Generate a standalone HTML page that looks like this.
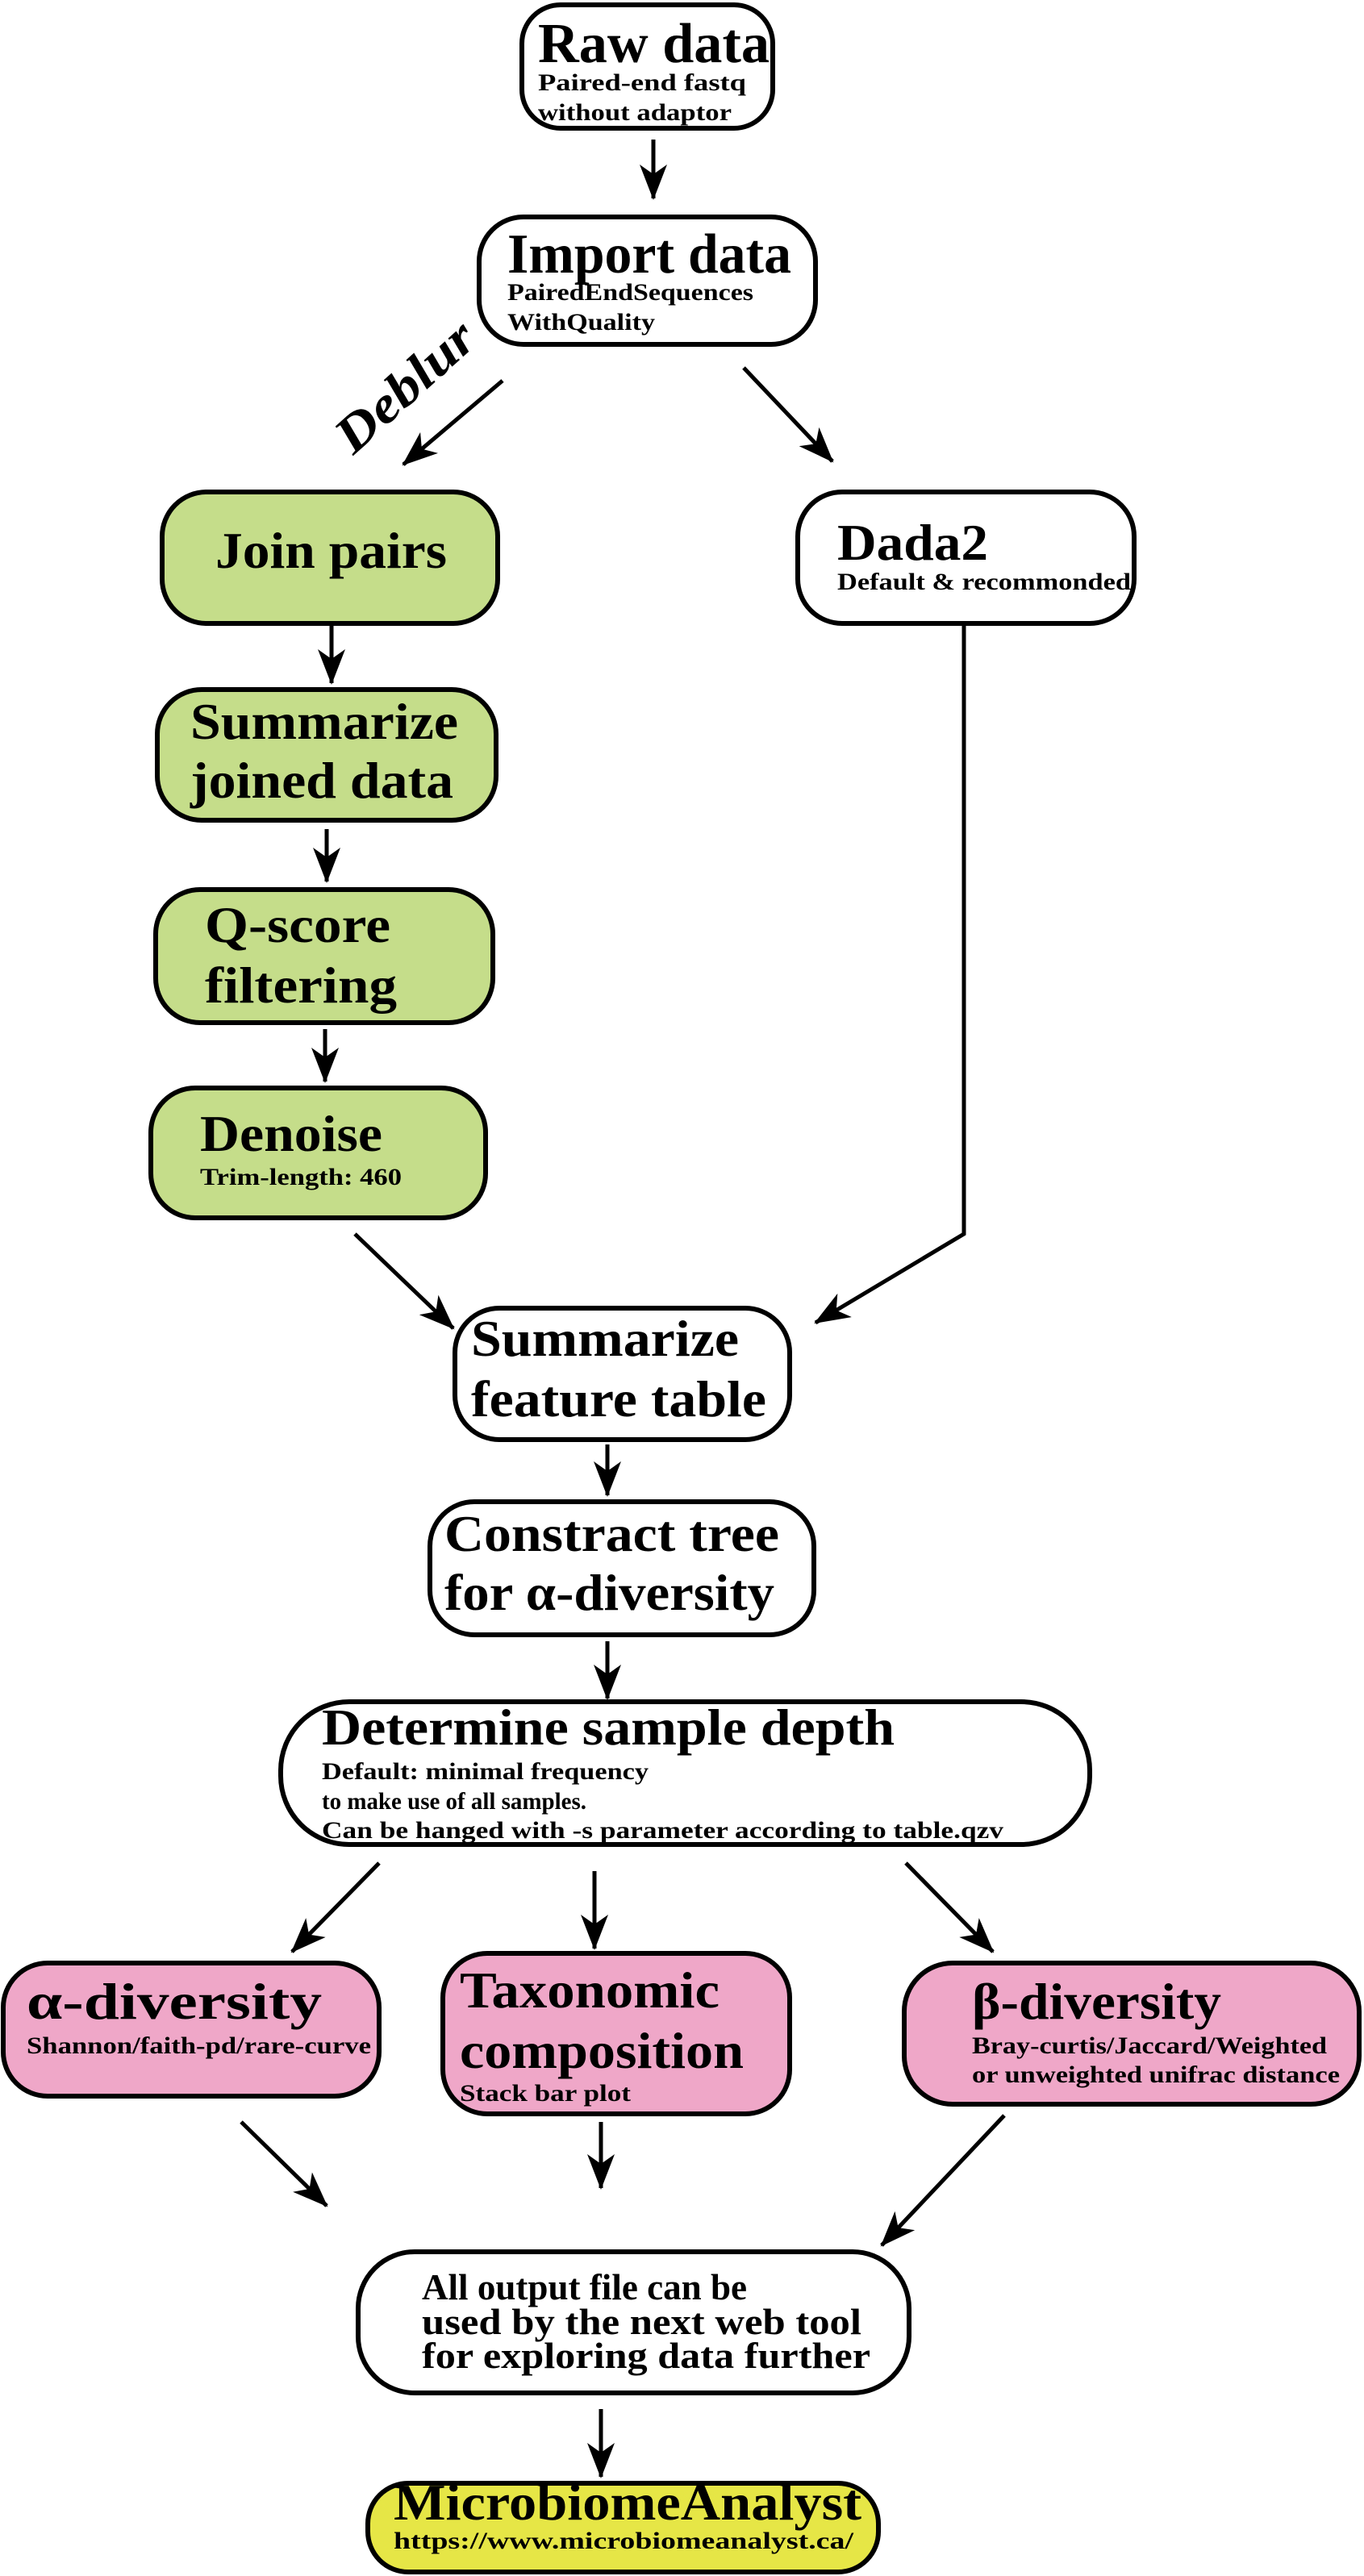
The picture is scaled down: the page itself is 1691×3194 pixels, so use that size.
<!DOCTYPE html>
<html><head><meta charset="utf-8"><style>
html,body{margin:0;padding:0;background:#fff;}
svg{display:block;}
text{font-family:"Liberation Serif","Times New Roman",serif;font-weight:bold;fill:#000;}
.b{font-size:70px;}
.m{font-size:64px;}
.s{font-size:30px;}
.box{stroke:#000;stroke-width:6;}
.ln{stroke:#000;stroke-width:5;fill:none;}
</style></head><body>
<svg width="1691" height="3194" viewBox="0 0 1691 3194" xmlns="http://www.w3.org/2000/svg">
<defs>
<marker id="a" markerWidth="46" markerHeight="34" refX="42" refY="17" orient="auto" markerUnits="userSpaceOnUse">
<path d="M0,0 L44,17 L0,34 L12,17 Z" fill="#000"/>
</marker>
</defs>

<rect class="box" x="647" y="6" width="311" height="153" rx="48" fill="#fff"/>
<rect class="box" x="594" y="269" width="417" height="158" rx="55" fill="#fff"/>
<rect class="box" x="201" y="610" width="416" height="163" rx="55" fill="#c5dd8a"/>
<rect class="box" x="989" y="610" width="417" height="163" rx="55" fill="#fff"/>
<rect class="box" x="195" y="855" width="420" height="162" rx="55" fill="#c5dd8a"/>
<rect class="box" x="193" y="1103" width="418" height="165" rx="55" fill="#c5dd8a"/>
<rect class="box" x="187" y="1349" width="415" height="161" rx="55" fill="#c5dd8a"/>
<rect class="box" x="564" y="1622" width="415" height="163" rx="55" fill="#fff"/>
<rect class="box" x="533" y="1862" width="476" height="165" rx="55" fill="#fff"/>
<rect class="box" x="348" y="2110" width="1003" height="177" rx="85" fill="#fff"/>
<rect class="box" x="4" y="2434" width="466" height="165" rx="55" fill="#efa7c8"/>
<rect class="box" x="549" y="2422" width="430" height="199" rx="55" fill="#efa7c8"/>
<rect class="box" x="1121" y="2434" width="564" height="175" rx="60" fill="#efa7c8"/>
<rect class="box" x="444" y="2792" width="683" height="175" rx="70" fill="#fff"/>
<rect class="box" x="456" y="3079" width="633" height="110" rx="50" fill="#e6e646"/>

<line class="ln" x1="810" y1="173" x2="810" y2="246" marker-end="url(#a)"/>
<line class="ln" x1="623" y1="472" x2="500" y2="576" marker-end="url(#a)"/>
<line class="ln" x1="922" y1="456" x2="1032" y2="572" marker-end="url(#a)"/>
<line class="ln" x1="411" y1="773" x2="411" y2="847" marker-end="url(#a)"/>
<line class="ln" x1="405" y1="1028" x2="405" y2="1093" marker-end="url(#a)"/>
<line class="ln" x1="403" y1="1276" x2="403" y2="1341" marker-end="url(#a)"/>
<polyline class="ln" points="1195,773 1195,1530 1011,1640" marker-end="url(#a)"/>
<line class="ln" x1="440" y1="1530" x2="562" y2="1647" marker-end="url(#a)"/>
<line class="ln" x1="753" y1="1791" x2="753" y2="1854" marker-end="url(#a)"/>
<line class="ln" x1="753" y1="2035" x2="753" y2="2106" marker-end="url(#a)"/>
<line class="ln" x1="470" y1="2310" x2="362" y2="2420" marker-end="url(#a)"/>
<line class="ln" x1="737" y1="2320" x2="737" y2="2416" marker-end="url(#a)"/>
<line class="ln" x1="1123" y1="2310" x2="1231" y2="2420" marker-end="url(#a)"/>
<line class="ln" x1="299" y1="2631" x2="405" y2="2735" marker-end="url(#a)"/>
<line class="ln" x1="745" y1="2631" x2="745" y2="2713" marker-end="url(#a)"/>
<line class="ln" x1="1245" y1="2623" x2="1093" y2="2784" marker-end="url(#a)"/>
<line class="ln" x1="745" y1="2987" x2="745" y2="3071" marker-end="url(#a)"/>

<text class="b" x="667" y="77" textLength="287" lengthAdjust="spacingAndGlyphs">Raw data</text>
<text class="s" x="667" y="112" textLength="258" lengthAdjust="spacingAndGlyphs">Paired-end fastq</text>
<text class="s" x="667" y="149" textLength="240" lengthAdjust="spacingAndGlyphs">without adaptor</text>

<text class="b" x="629" y="338" textLength="352" lengthAdjust="spacingAndGlyphs">Import data</text>
<text class="s" x="629" y="372" textLength="305" lengthAdjust="spacingAndGlyphs">PairedEndSequences</text>
<text class="s" x="629" y="409" textLength="183" lengthAdjust="spacingAndGlyphs">WithQuality</text>

<text class="m" transform="translate(438,565) rotate(-42)" x="0" y="0" textLength="210" lengthAdjust="spacingAndGlyphs" font-style="italic">Deblur</text>

<text class="m" x="267" y="704" textLength="287" lengthAdjust="spacingAndGlyphs">Join pairs</text>
<text class="m" x="1038" y="694" textLength="187" lengthAdjust="spacingAndGlyphs">Dada2</text>
<text class="s" x="1038" y="731" textLength="364" lengthAdjust="spacingAndGlyphs">Default &amp; recommonded</text>

<text class="m" x="236" y="916" textLength="332" lengthAdjust="spacingAndGlyphs">Summarize</text>
<text class="m" x="236" y="989" textLength="326" lengthAdjust="spacingAndGlyphs">joined data</text>

<text class="m" x="254" y="1168" textLength="230" lengthAdjust="spacingAndGlyphs">Q-score</text>
<text class="m" x="254" y="1243" textLength="238" lengthAdjust="spacingAndGlyphs">filtering</text>

<text class="m" x="248" y="1427" textLength="226" lengthAdjust="spacingAndGlyphs">Denoise</text>
<text class="s" x="248" y="1469" textLength="250" lengthAdjust="spacingAndGlyphs">Trim-length: 460</text>

<text class="m" x="584" y="1681" textLength="332" lengthAdjust="spacingAndGlyphs">Summarize</text>
<text class="m" x="584" y="1756" textLength="366" lengthAdjust="spacingAndGlyphs">feature table</text>

<text class="m" x="551" y="1923" textLength="415" lengthAdjust="spacingAndGlyphs">Constract tree</text>
<text class="m" x="551" y="1996" textLength="409" lengthAdjust="spacingAndGlyphs">for α-diversity</text>

<text class="m" x="399" y="2163" textLength="710" lengthAdjust="spacingAndGlyphs">Determine sample depth</text>
<text class="s" x="399" y="2206" textLength="405" lengthAdjust="spacingAndGlyphs">Default: minimal frequency</text>
<text class="s" x="399" y="2243" textLength="328" lengthAdjust="spacingAndGlyphs">to make use of all samples.</text>
<text class="s" x="399" y="2279" textLength="845" lengthAdjust="spacingAndGlyphs">Can be hanged with -s parameter according to table.qzv</text>

<text class="m" x="33" y="2503" textLength="366" lengthAdjust="spacingAndGlyphs">α-diversity</text>
<text class="s" x="33" y="2546" textLength="427" lengthAdjust="spacingAndGlyphs">Shannon/faith-pd/rare-curve</text>

<text class="m" x="570" y="2489" textLength="322" lengthAdjust="spacingAndGlyphs">Taxonomic</text>
<text class="m" x="570" y="2564" textLength="352" lengthAdjust="spacingAndGlyphs">composition</text>
<text class="s" x="570" y="2605" textLength="212" lengthAdjust="spacingAndGlyphs">Stack bar plot</text>

<text class="m" x="1205" y="2503" textLength="309" lengthAdjust="spacingAndGlyphs">β-diversity</text>
<text class="s" x="1205" y="2546" textLength="440" lengthAdjust="spacingAndGlyphs">Bray-curtis/Jaccard/Weighted</text>
<text class="s" x="1205" y="2582" textLength="456" lengthAdjust="spacingAndGlyphs">or unweighted unifrac distance</text>

<text style="font-size:46px" x="523" y="2851" textLength="403" lengthAdjust="spacingAndGlyphs">All output file can be</text>
<text style="font-size:46px" x="523" y="2894" textLength="545" lengthAdjust="spacingAndGlyphs">used by the next web tool</text>
<text style="font-size:46px" x="523" y="2936" textLength="556" lengthAdjust="spacingAndGlyphs">for exploring data further</text>

<text class="m" x="488" y="3124" textLength="580" lengthAdjust="spacingAndGlyphs">MicrobiomeAnalyst</text>
<text class="s" x="488" y="3160" textLength="570" lengthAdjust="spacingAndGlyphs">https://www.microbiomeanalyst.ca/</text>
</svg>
</body></html>
